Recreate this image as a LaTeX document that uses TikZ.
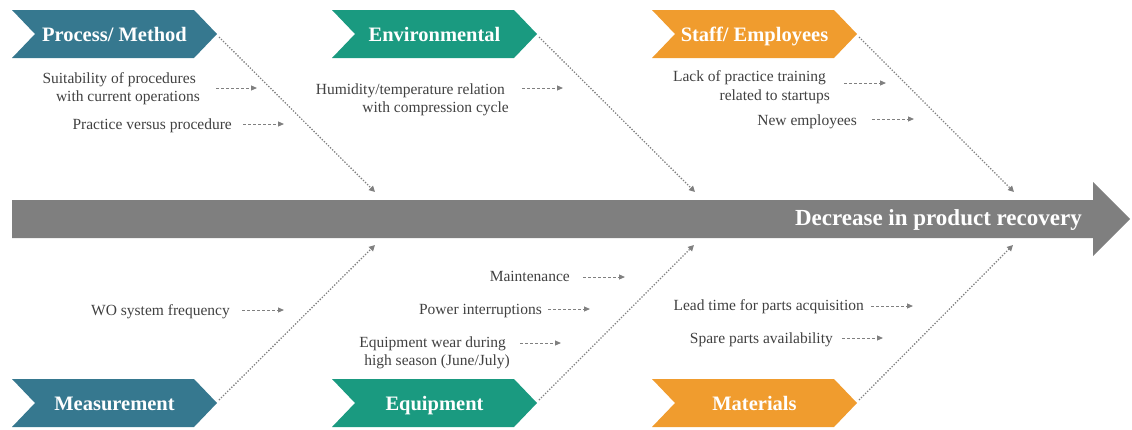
\documentclass[tikz,border=0pt]{standalone}
\usepackage{fontspec}
\setmainfont{Liberation Serif}
\newfontfamily\tnr{Liberation Serif}
\usetikzlibrary{arrows.meta}
\definecolor{cblue}{HTML}{36788F}
\definecolor{cgreen}{HTML}{1A9A80}
\definecolor{corange}{HTML}{F09C2E}
\definecolor{cgray}{HTML}{7F7F7F}
\definecolor{ctext}{HTML}{404040}
\definecolor{carr}{HTML}{808080}
\newcommand{\mychev}[5]{%
  \fill[#3] (#1,#2) -- ++(182,0) -- ++(23,24) -- ++(-23,24) -- ++(-182,0) -- ++(23,-24) -- cycle;
  \node[chevlabel] (#5) at (#1+102.5,#2+31.5) {#4};
  \coordinate (#5tip) at (#1+205,#2+24);
}
\tikzset{
  chevlabel/.style={text=white, font=\tnr\fontsize{20.5}{24}\selectfont\bfseries, inner sep=0pt, anchor=base},
  cause/.style={text=ctext, font=\tnr\fontsize{15.5}{19}\selectfont, inner sep=0pt, anchor=base east},
  dasharr/.style={carr, line width=1pt, dash pattern=on 3pt off 2pt, -{Triangle[length=6pt,width=5pt]}},
  dotarr/.style={carr, line width=1.3pt, dash pattern=on 1.3pt off 1.6pt, -{Triangle[length=6pt,width=6pt]}},
}
\begin{document}
\begin{tikzpicture}[x=1pt,y=-1pt]
\useasboundingbox (0,0) rectangle (1132,429);
% spine
\fill[cgray] (12,200) -- (1093,200) -- (1093,182) -- (1130,219) -- (1093,256) -- (1093,238) -- (12,238) -- cycle;
\node[text=white, font=\tnr\fontsize{23}{26}\selectfont\bfseries, anchor=base east, inner sep=0pt] (effect) at (1082,225.5) {Decrease in product recovery};
% chevrons
\mychev{12}{10}{cblue}{Process/ Method}{proc}
\mychev{332}{10}{cgreen}{Environmental}{env}
\mychev{652}{10}{corange}{Staff/ Employees}{staff}
\mychev{12}{379}{cblue}{Measurement}{meas}
\mychev{332}{379}{cgreen}{Equipment}{equip}
\mychev{652}{379}{corange}{Materials}{mat}
% spine targets
\coordinate (p1) at (375,192);
\coordinate (p2) at (695,192);
\coordinate (p3) at (1014,192);
\coordinate (q1) at (375,245);
\coordinate (q2) at (694,245);
\coordinate (q3) at (1013,245);
\draw[dotarr] ([shift={(2,3)}]proctip) -- (p1);
\draw[dotarr] ([shift={(2,3)}]envtip) -- (p2);
\draw[dotarr] ([shift={(2,3)}]stafftip) -- (p3);
\draw[dotarr] ([shift={(2,-3)}]meastip) -- (q1);
\draw[dotarr] ([shift={(2,-3)}]equiptip) -- (q2);
\draw[dotarr] ([shift={(2,-3)}]mattip) -- (q3);
% causes
\node[cause] (c1a) at (196,83.3) {Suitability of procedures};
\node[cause] (c1b) at (200,101.7) {with current operations};
\node[cause] (c2) at (232,129.3) {Practice versus procedure};
\node[cause] (c3a) at (505,94) {Humidity/temperature relation};
\node[cause] (c3b) at (509,112.3) {with compression cycle};
\node[cause] (c4a) at (826,81.7) {Lack of practice training};
\node[cause] (c4b) at (830,100) {related to startups};
\node[cause] (c5) at (857,125) {New employees};
\node[cause] (c6) at (230,315) {WO system frequency};
\node[cause] (c7) at (570,281.7) {Maintenance};
\node[cause] (c8) at (542,314) {Power interruptions};
\node[cause] (c9a) at (506,347.7) {Equipment wear during};
\node[cause] (c9b) at (510,365.7) {high season (June/July)};
\node[cause] (c10) at (864,310.7) {Lead time for parts acquisition};
\node[cause] (c11) at (833,343.3) {Spare parts availability};
% small arrows
\coordinate (e1) at (257,88);
\coordinate (e2) at (284,124);
\coordinate (e3) at (563,88);
\coordinate (e4) at (886,83);
\coordinate (e5) at (914,119);
\coordinate (e6) at (284,310);
\coordinate (e7) at (625,277);
\coordinate (e8) at (590,309);
\coordinate (e9) at (561,343);
\coordinate (e10) at (913,306);
\coordinate (e11) at (883,338);
\draw[dasharr] (216,88) -- (e1);
\draw[dasharr] (243,124) -- (e2);
\draw[dasharr] (522,88) -- (e3);
\draw[dasharr] (844,83) -- (e4);
\draw[dasharr] (872,119) -- (e5);
\draw[dasharr] (242,310) -- (e6);
\draw[dasharr] (583,277) -- (e7);
\draw[dasharr] (548,309) -- (e8);
\draw[dasharr] (520,343) -- (e9);
\draw[dasharr] (871,306) -- (e10);
\draw[dasharr] (842,338) -- (e11);
\end{tikzpicture}
\end{document}
